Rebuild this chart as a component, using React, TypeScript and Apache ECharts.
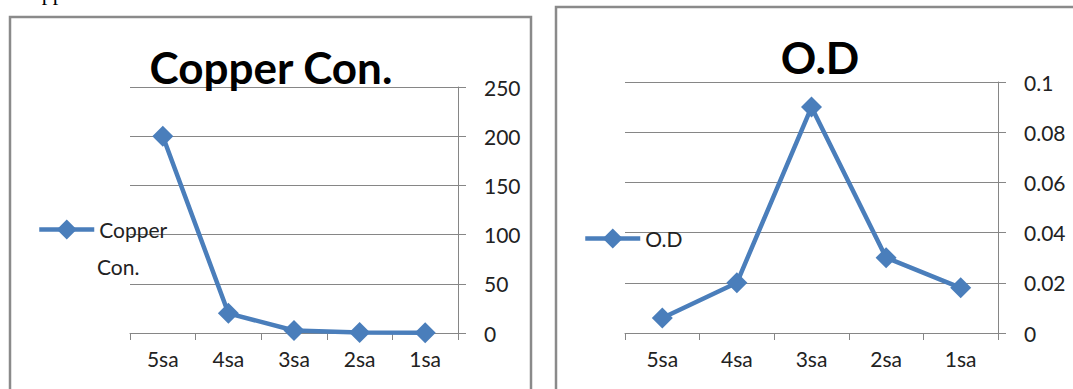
import React, { useEffect, useRef } from "react";
import * as echarts from "echarts";

const categories = ["5sa", "4sa", "3sa", "2sa", "1sa"];
const copperValues = [200, 20, 2.5, 0.5, 0.3];
const odValues = [0.006, 0.02, 0.09, 0.03, 0.018];
const copperTicks = { min: 0, max: 250, interval: 50 };
const odTicks = { min: 0, max: 0.1, interval: 0.02 };
const copperName = "Copper Con.";
const odName = "O.D";

const BLUE = "#4a7ebb";
const GRAY = "#868686";
const FONT = "Lato";

export default function App() {
  const ref = useRef<HTMLDivElement>(null);
  useEffect(() => {
    document.body.style.margin = "0";
    if (!ref.current) return;
    const chart = echarts.init(ref.current, null, { renderer: "svg" });
    const xAxisCommon = (gridIndex: number) => ({
      type: "category" as const,
      gridIndex,
      data: categories,
      boundaryGap: true,
      axisLine: { show: true, lineStyle: { color: GRAY, width: 1 } },
      axisTick: { show: true, length: 7, lineStyle: { color: GRAY } },
      axisLabel: { color: "#222", fontFamily: FONT, fontSize: 21, margin: 15 },
      splitLine: { show: false },
    });
    const yAxisCommon = (gridIndex: number, t: { min: number; max: number; interval: number }) => ({
      type: "value" as const,
      gridIndex,
      position: "right" as const,
      min: t.min,
      max: t.max,
      interval: t.interval,
      axisLine: { show: true, lineStyle: { color: GRAY, width: 1 } },
      axisTick: { show: true, length: 8, lineStyle: { color: GRAY } },
      axisLabel: { color: "#222", fontFamily: FONT, fontSize: 21, margin: 26 },
      splitLine: { show: true, lineStyle: { color: GRAY, width: 1 } },
    });
    const seriesCommon = {
      type: "line" as const,
      symbol: "diamond",
      symbolSize: 21,
      showSymbol: true,
      lineStyle: { color: BLUE, width: 4.5 },
      itemStyle: { color: BLUE },
    };
    const legendCommon = {
      itemWidth: 55,
      itemHeight: 25,
      itemStyle: { color: BLUE },
      lineStyle: { color: BLUE, width: 4.5 },
      textStyle: { fontFamily: FONT, fontSize: 21, color: "#222" },
    };
    chart.setOption({
      animation: false,
      backgroundColor: "#fff",
      title: [
        {
          text: copperName,
          left: 266,
          top: 40,
          textAlign: "center",
          textStyle: { fontFamily: FONT, fontWeight: "bold", fontSize: 44, color: "#000" },
        },
        {
          text: odName,
          left: 815,
          top: 30,
          textAlign: "center",
          textStyle: { fontFamily: FONT, fontWeight: "bold", fontSize: 44, color: "#000" },
        },
      ],
      legend: [
        {
          ...legendCommon,
          data: [copperName],
          left: 32,
          top: 214,
          formatter: () => "Copper",
        },
        {
          ...legendCommon,
          data: [odName],
          left: 578,
          top: 223,
        },
      ],
      grid: [
        { left: 130, top: 87, width: 328, height: 246, containLabel: false },
        { left: 625, top: 82, width: 373, height: 251, containLabel: false },
      ],
      xAxis: [xAxisCommon(0), xAxisCommon(1)],
      yAxis: [yAxisCommon(0, copperTicks), yAxisCommon(1, odTicks)],
      series: [
        { ...seriesCommon, name: copperName, xAxisIndex: 0, yAxisIndex: 0, data: copperValues },
        { ...seriesCommon, name: odName, xAxisIndex: 1, yAxisIndex: 1, data: odValues },
      ],
      graphic: [
        {
          type: "rect",
          shape: { x: 10, y: 17, width: 521, height: 420 },
          style: { fill: "none", stroke: "#8a8a8a", lineWidth: 2.5 },
          silent: true,
        },
        {
          type: "rect",
          shape: { x: 556, y: 7, width: 560, height: 420 },
          style: { fill: "none", stroke: "#8a8a8a", lineWidth: 2.5 },
          silent: true,
        },
        {
          type: "text",
          x: 97,
          y: 266,
          style: {
            text: "Con.",
            fontFamily: FONT,
            fontSize: 21,
            fill: "#222",
            verticalAlign: "middle",
          },
          silent: true,
        },
        {
          type: "text",
          x: 16,
          y: -8,
          style: {
            text: "Copper",
            fontFamily: "Liberation Serif",
            fontSize: 22,
            fill: "#000",
            verticalAlign: "middle",
          },
          silent: true,
        },
      ],
    });
    return () => chart.dispose();
  }, []);
  return <div ref={ref} style={{ width: 1073, height: 389 }} />;
}
